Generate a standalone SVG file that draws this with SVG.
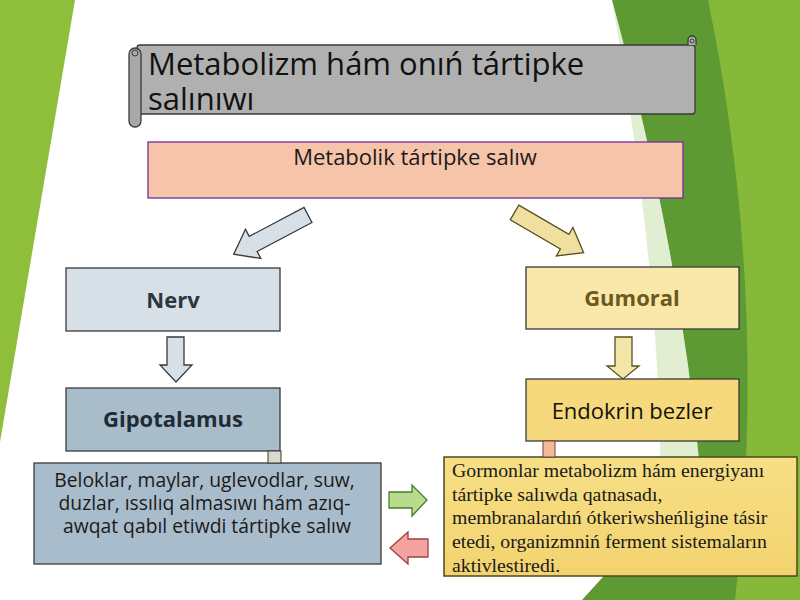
<svg xmlns="http://www.w3.org/2000/svg" width="800" height="600" viewBox="0 0 800 600">
<defs>
<style>
.box{stroke:#3a3a3a;stroke-width:1.3}
.sans{font-family:"Open Sans","Noto Sans","DejaVu Sans",sans-serif}
.serif{font-family:"Liberation Serif","Times New Roman",serif}
.lbl{font-size:22px;text-anchor:middle}
.bold{font-weight:bold}
.arr{stroke-width:1.3;stroke-linejoin:miter}
</style>
<linearGradient id="gy" x1="0" y1="0" x2="0" y2="1">
<stop offset="0" stop-color="#f7df86"/><stop offset="1" stop-color="#f3d36f"/>
</linearGradient>
</defs>
<rect width="800" height="600" fill="#ffffff"/>
<g id="background">
<polygon points="0,0 75,0 0,442" fill="#8fbf3a"/>
<path d="M612,0 L800,0 L800,600 L582,600 L700,470 Q680,250 612,0 Z" fill="#5e9a34"/>
<path d="M612,0 Q680,250 700,470 L660,520 Q665,300 612,0 Z" fill="#a8cf7a" opacity="0.35"/>
<path d="M708,0 L800,0 L800,600 L735,600 Q770,300 708,0 Z" fill="#86b83a"/>
</g>
<g id="title">
<rect x="137" y="45" width="558" height="69" rx="3" fill="#b0b0b0" stroke="#3a3a3a" stroke-width="1.3"/>
<rect x="129" y="48" width="12" height="79" rx="6" fill="#a8a8a8" stroke="#3a3a3a" stroke-width="1.3"/>
<circle cx="135" cy="53" r="3" fill="none" stroke="#3a3a3a" stroke-width="1"/>
<path d="M688,45 L688,40 A4,4 0 0 1 696,40 L696,45" fill="#b0b0b0" stroke="#3a3a3a" stroke-width="1.3"/>
<circle cx="692" cy="41" r="2" fill="none" stroke="#3a3a3a" stroke-width="1"/>
<text class="sans" x="148" y="75" font-size="31" fill="#111">Metabolizm hám onıń tártipke</text>
<text class="sans" x="148" y="110" font-size="31" fill="#111">salınıwı</text>
</g>
<g id="metabolik">
<rect x="148" y="142" width="535" height="56" fill="#f6c4a8" stroke="#7030a0" stroke-width="1.3"/>
<text class="sans lbl" x="415" y="165" fill="#1a1a1a">Metabolik tártipke salıw</text>
</g>
<g id="nerv">
<rect class="box" x="66" y="268" width="214" height="63" fill="#d7e0e7"/>
<text class="sans lbl bold" x="173" y="308" fill="#2b3640">Nerv</text>
</g>
<g id="gipotalamus">
<rect class="box" x="66" y="388" width="214" height="63" fill="#a9bcc9"/>
<text class="sans lbl bold" x="173" y="427" fill="#1f2b35">Gipotalamus</text>
</g>
<g id="beloklar">
<rect class="box" x="34" y="463" width="347" height="101" fill="#a9bccb"/>
<text class="sans" font-size="19.3" text-anchor="middle" fill="#1a1a1a">
<tspan x="207" y="487">Beloklar, maylar, uglevodlar, suw,</tspan>
<tspan x="207" y="510">duzlar, ıssılıq almasıwı hám azıq-</tspan>
<tspan x="207" y="533">awqat qabıl etiwdi tártipke salıw</tspan>
</text>
</g>
<g id="gumoral">
<rect class="box" x="526" y="267" width="213" height="62" fill="#f9e8aa"/>
<text class="sans lbl bold" x="632" y="306" fill="#6b5a1e">Gumoral</text>
</g>
<g id="endokrin">
<rect class="box" x="526" y="379" width="213" height="62" fill="#f6d97c"/>
<text class="sans" x="632" y="419" font-size="22" text-anchor="middle" fill="#111">Endokrin bezler</text>
</g>
<g id="gormonlar">
<rect x="444" y="457" width="353" height="119" fill="url(#gy)" stroke="#4a4a20" stroke-width="1.5"/>
<text class="serif" font-size="19.8" fill="#1a1a1a">
<tspan x="452" y="477">Gormonlar metabolizm hám energiyanı</tspan>
<tspan x="452" y="501">tártipke salıwda qatnasadı,</tspan>
<tspan x="452" y="524">membranalardıń ótkeriwsheńligine tásir</tspan>
<tspan x="452" y="548">etedi, organizmniń ferment sistemaların</tspan>
<tspan x="452" y="572">aktivlestiredi.</tspan>
</text>
</g>
<g id="connectors">
<path class="arr" d="M0,-8.5 L62,-8.5 L62,-16.5 L84,0 L62,16.5 L62,8.5 L0,8.5 Z" transform="translate(308,215) rotate(152.2)" fill="#d7e0e7" stroke="#3a3a3a"/>
<path class="arr" d="M0,-8.5 L58,-8.5 L58,-16.5 L80,0 L58,16.5 L58,8.5 L0,8.5 Z" transform="translate(514.5,212.5) rotate(30.2)" fill="#efe0a0" stroke="#5a5020"/>
<path class="arr" d="M167,337 L184,337 L184,365 L192,365 L176,382 L160,365 L167,365 Z" fill="#d7e0e7" stroke="#3a3a3a"/>
<path class="arr" d="M615,337 L632,337 L632,366 L639,366 L623,379 L607,366 L615,366 Z" fill="#f3e6a8" stroke="#5a5020"/>
<rect x="268" y="451" width="13" height="12" fill="#d9d9d0" stroke="#3a3a3a" stroke-width="1"/>
<rect x="543" y="441" width="12" height="16" fill="#f4b99a" stroke="#6a4a30" stroke-width="1"/>
<path class="arr" d="M389,492 L412,492 L412,485 L427,500 L412,516 L412,508 L389,508 Z" fill="#b8db8c" stroke="#4a7a30"/>
<path class="arr" d="M428,539 L408,539 L408,532 L390,548 L408,564 L408,557 L428,557 Z" fill="#f4a3a0" stroke="#a04040"/>
</g>
</svg>
